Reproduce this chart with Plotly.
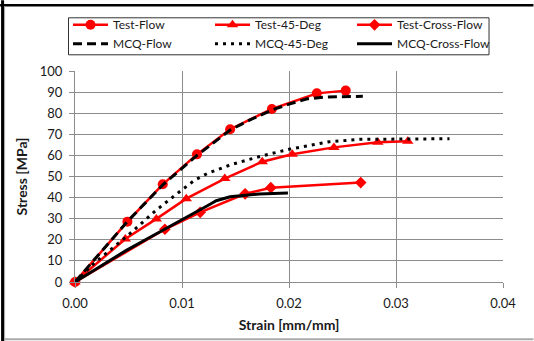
import plotly.graph_objects as go

# ---- data ----
test_flow_x = [0.0, 0.0049, 0.0082, 0.0114, 0.0145, 0.0184, 0.0226, 0.0253]
test_flow_y = [0.0, 28.6, 46.3, 60.5, 72.4, 82.0, 89.4, 90.7]

test_45_x = [0.0, 0.0047, 0.0076, 0.0104, 0.0140, 0.0175, 0.0203, 0.0242, 0.0283, 0.0311]
test_45_y = [0.0, 20.4, 29.9, 39.5, 49.0, 57.0, 60.5, 63.8, 66.2, 66.7]

test_cross_x = [0.0, 0.0084, 0.0117, 0.0159, 0.0183, 0.0267]
test_cross_y = [0.0, 25.0, 33.0, 41.8, 44.7, 47.1]

mcq_flow_x = [0.0, 0.0049, 0.0082, 0.0114, 0.0145, 0.0163, 0.0184, 0.0200, 0.0217, 0.0235, 0.0269]
mcq_flow_y = [0.0, 28.7, 46.0, 60.0, 72.0, 76.7, 81.5, 84.3, 86.8, 87.7, 88.0]

mcq_45_x = [0.0, 0.0017, 0.0050, 0.0076, 0.0099, 0.0112, 0.0124, 0.0145, 0.0172, 0.0200, 0.0238, 0.0266, 0.0350]
mcq_45_y = [0.0, 8.5, 22.3, 34.1, 43.3, 48.3, 51.5, 55.5, 59.4, 62.9, 66.5, 67.6, 67.9]

mcq_cross_x = [0.0, 0.0048, 0.0068, 0.0101, 0.0125, 0.0132, 0.0145, 0.0172, 0.0199]
mcq_cross_y = [0.0, 15.0, 20.6, 29.6, 36.5, 38.5, 40.4, 41.7, 42.2]

x_ticks = [0.0, 0.01, 0.02, 0.03, 0.04]
y_ticks = [0, 10, 20, 30, 40, 50, 60, 70, 80, 90, 100]

RED = "#FF0000"
BLK = "#000000"
FONT = "Lato"

fig = go.Figure()
fig.add_trace(go.Scatter(x=test_flow_x, y=test_flow_y, name="Test-Flow", mode="lines+markers",
                         line=dict(color=RED, width=2.5), marker=dict(symbol="circle", size=10, color=RED),
                         cliponaxis=False))
fig.add_trace(go.Scatter(x=test_45_x, y=test_45_y, name="Test-45-Deg", mode="lines+markers",
                         line=dict(color=RED, width=2.5), marker=dict(symbol="triangle-up", size=10, color=RED),
                         cliponaxis=False))
fig.add_trace(go.Scatter(x=test_cross_x, y=test_cross_y, name="Test-Cross-Flow", mode="lines+markers",
                         line=dict(color=RED, width=2.5), marker=dict(symbol="diamond", size=9, color=RED),
                         cliponaxis=False))
fig.add_trace(go.Scatter(x=mcq_flow_x, y=mcq_flow_y, name="MCQ-Flow", mode="lines",
                         line=dict(color=BLK, width=3, dash="9px,5px"), cliponaxis=False))
fig.add_trace(go.Scatter(x=mcq_45_x, y=mcq_45_y, name="MCQ-45-Deg", mode="lines",
                         line=dict(color=BLK, width=3, dash="3px,5px"), cliponaxis=False))
fig.add_trace(go.Scatter(x=mcq_cross_x, y=mcq_cross_y, name="MCQ-Cross-Flow", mode="lines",
                         line=dict(color=BLK, width=3), cliponaxis=False))

# plot area pixel geometry
W, H = 534, 341
L, R, T, B = 75, 503.5, 70.7, 281.7


def px(xp):
    return (xp - L) / (R - L)


def py(yp):
    return (B - yp) / (B - T)


shapes = [
    dict(type="line", xref="paper", yref="paper", x0=px(2.5), x1=px(2.5), y0=py(0), y1=py(341),
         line=dict(color=BLK, width=3)),
    dict(type="line", xref="paper", yref="paper", x0=px(0), x1=px(534), y0=py(5), y1=py(5),
         line=dict(color=BLK, width=2.5)),
    dict(type="line", xref="paper", yref="paper", x0=px(4), x1=px(534), y0=py(339), y1=py(339),
         line=dict(color="#AAAAAA", width=2)),
    dict(type="line", xref="paper", yref="paper", x0=px(4.5), x1=px(4.5), y0=py(6), y1=py(341),
         line=dict(color="#AAAAAA", width=1)),
    # legend frame
    dict(type="rect", xref="paper", yref="paper", x0=px(68.5), x1=px(489.5), y0=py(17.5), y1=py(54.5),
         line=dict(color="#333333", width=1), fillcolor="rgba(0,0,0,0)", layer="above"),
]

fig.update_layout(
    width=W, height=H,
    margin=dict(l=L, r=W - R, t=T, b=H - B, pad=0, autoexpand=False),
    paper_bgcolor="white", plot_bgcolor="white",
    font=dict(family=FONT, size=13, color="#1a1a1a"),
    showlegend=True,
    legend=dict(orientation="h", x=px(68), y=py(10), xanchor="left", yanchor="top",
                borderwidth=0, bgcolor="rgba(0,0,0,0)",
                entrywidth=92, entrywidthmode="pixels", tracegroupgap=0,
                font=dict(family=FONT, size=12, color="#1a1a1a"), itemwidth=35),
    shapes=shapes,
)

fig.update_xaxes(range=[0, 0.04], tickvals=x_ticks, tickformat=".2f",
                 showgrid=True, gridcolor="#8C8C8C", gridwidth=1,
                 showline=True, linecolor="#8C8C8C", linewidth=1,
                 ticks="outside", ticklen=5, tickcolor="#8C8C8C",
                 ticklabelstandoff=4,
                 zeroline=False,
                 title=dict(text="<b>Strain [mm/mm]</b>", font=dict(family=FONT, size=14), standoff=10))
fig.update_yaxes(range=[0, 100], tickvals=y_ticks,
                 showgrid=True, gridcolor="#8C8C8C", gridwidth=1,
                 showline=True, linecolor="#8C8C8C", linewidth=1,
                 ticks="outside", ticklen=5, tickcolor="#8C8C8C",
                 ticklabelstandoff=4,
                 zeroline=False,
                 title=dict(text="<b>Stress [MPa]</b>", font=dict(family=FONT, size=14), standoff=8))

fig.write_html("out.html", config={"displayModeBar": False},
               post_script="document.body.style.margin='0';document.body.style.overflow='hidden';")
